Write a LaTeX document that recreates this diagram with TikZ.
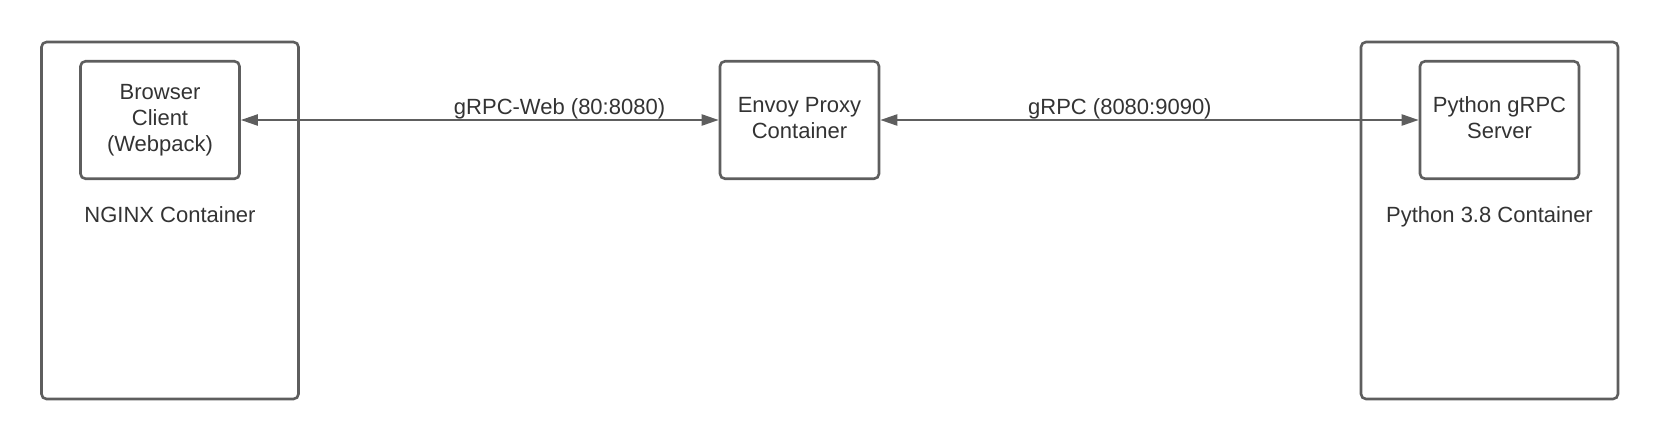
\documentclass[tikz,border=0pt]{standalone}
\usepackage{fontspec}
\setmainfont{Liberation Sans}
\usetikzlibrary{arrows.meta}
\definecolor{strokegray}{HTML}{5E5E5E}
\definecolor{textgray}{HTML}{333333}
\newcommand{\liftstrut}{\rule[-5pt]{0pt}{0pt}}
\tikzset{
  container/.style={draw=strokegray, line width=2.6pt, rounded corners=5pt, minimum width=257pt, minimum height=357pt, inner sep=0pt},
  procbox/.style={draw=strokegray, line width=2.6pt, rounded corners=5pt, minimum width=159pt, minimum height=117.5pt, inner sep=0pt, align=center, text=textgray, font=\fontsize{22}{26}\selectfont},
  lbl/.style={text=textgray, font=\fontsize{22}{26}\selectfont, inner sep=0pt},
  link/.style={draw=strokegray, line width=2.2pt, {Triangle[length=17pt,width=11pt]}-{Triangle[length=17pt,width=11pt]}}
}
\begin{document}
\begin{tikzpicture}[x=1pt,y=-1pt]
\useasboundingbox (0,0) rectangle (1660,440);
\node[container] (nginx) at (170,220.5) {};
\node[container] (pycont) at (1489.5,220.5) {};
\node[procbox] (browser) at (160,120) {Browser\\Client\\(Webpack)};
\node[procbox] (envoy) at (799.5,120) {Envoy Proxy\\Container\liftstrut};
\node[procbox] (server) at (1499.5,120) {Python gRPC\\Server\liftstrut};
\node[lbl, anchor=base] (nginxlbl) at (170,222.5) {NGINX Container};
\node[lbl, anchor=base] (pylbl) at (1489.5,222.5) {Python 3.8 Container};
\draw[link] (browser.east) -- node[lbl, pos=0.667, anchor=base, yshift=5.5pt] (l1) {gRPC-Web (80:8080)} (envoy.west);
\draw[link] (envoy.east) -- node[lbl, pos=0.445, anchor=base, yshift=5.5pt] (l2) {gRPC (8080:9090)} (server.west);
\end{tikzpicture}
\end{document}
